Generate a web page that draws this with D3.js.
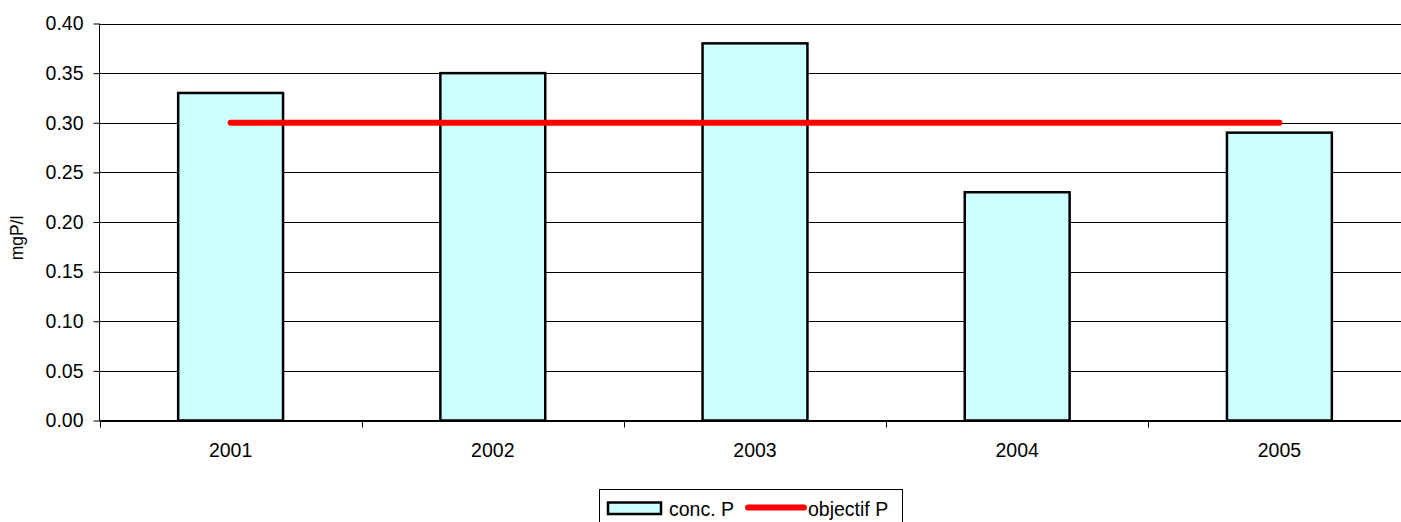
<!DOCTYPE html>
<html>
<head>
<meta charset="utf-8">
<script src="https://cdn.jsdelivr.net/npm/d3@7"></script>
<style>
  html, body { margin: 0; padding: 0; background: #fff; }
  svg { display: block; font-family: "Liberation Sans", Arial, sans-serif; }
</style>
</head>
<body>
<svg id="chart" width="1401" height="522"></svg>
<script>
// Annual phosphorus concentration vs. target
const years = ["2001", "2002", "2003", "2004", "2005"];
const concP = [0.33, 0.35, 0.38, 0.23, 0.29];
const objectifP = [0.30, 0.30, 0.30, 0.30, 0.30];
const yTicks = [0, 0.05, 0.10, 0.15, 0.20, 0.25, 0.30, 0.35, 0.40];

const FONT = 19.5;
const svg = d3.select("#chart");
const plotLeft = 99.5, plotRight = 1410.5, plotTop = 23.5, plotBottom = 420.5;

const x = d3.scaleBand().domain(years).range([plotLeft, plotRight]).paddingInner(0).paddingOuter(0);
const y = d3.scaleLinear().domain([0, 0.40]).range([plotBottom, plotTop]);
const barW = x.bandwidth() * 0.4;

// horizontal gridlines
svg.append("g").selectAll("line").data(yTicks).join("line")
  .attr("x1", plotLeft).attr("x2", plotRight)
  .attr("y1", d => Math.round(y(d)) + 0.5).attr("y2", d => Math.round(y(d)) + 0.5)
  .attr("stroke", "#000").attr("stroke-width", 1);

// y axis
const yAxis = d3.axisLeft(y).tickValues(yTicks).tickFormat(d3.format(".2f")).tickSize(6).tickPadding(10);
const gy = svg.append("g").attr("transform", `translate(${plotLeft},0)`).call(yAxis);
gy.attr("font-size", null).attr("font-family", null);
gy.selectAll("text").attr("font-size", FONT).attr("fill", "#000");
gy.selectAll("line, path").attr("stroke", "#000");
gy.select(".domain").attr("d", `M0,${plotTop}V${plotBottom}`);

// x axis: ticks at category boundaries
const gx = svg.append("g").attr("transform", `translate(0,${plotBottom})`);
gx.append("line").attr("x1", plotLeft).attr("x2", plotRight).attr("y1", 0).attr("y2", 0).attr("stroke", "#000");
const bounds = years.map(d => x(d)).concat([x(years[years.length - 1]) + x.bandwidth()]);
gx.selectAll("line.tick").data(bounds).join("line").attr("class", "tick")
  .attr("x1", d => Math.round(d) + 0.5).attr("x2", d => Math.round(d) + 0.5)
  .attr("y1", 0).attr("y2", 7).attr("stroke", "#000");
gx.selectAll("text").data(years).join("text")
  .attr("x", d => x(d) + x.bandwidth() / 2).attr("y", 36.5)
  .attr("text-anchor", "middle").attr("font-size", FONT).attr("fill", "#000")
  .text(d => d);

// bars
svg.append("g").selectAll("rect").data(years).join("rect")
  .attr("x", d => x(d) + (x.bandwidth() - barW) / 2)
  .attr("y", (d, i) => y(concP[i]))
  .attr("width", barW)
  .attr("height", (d, i) => y(0) - y(concP[i]))
  .attr("fill", "#ccffff").attr("stroke", "#000").attr("stroke-width", 2.5);

// target line
const line = d3.line().x((d, i) => x(years[i]) + x.bandwidth() / 2).y(d => y(d));
svg.append("path").datum(objectifP).attr("d", line)
  .attr("fill", "none").attr("stroke", "#ff0000").attr("stroke-width", 6).attr("stroke-linecap", "round");

// y axis title
svg.append("text").attr("transform", "translate(23,238) rotate(-90)")
  .attr("text-anchor", "middle").attr("font-size", 17.5).attr("fill", "#000").text("mgP/l");

// legend
const lg = svg.append("g");
lg.append("rect").attr("x", 599.5).attr("y", 489.5).attr("width", 303).attr("height", 40)
  .attr("fill", "#fff").attr("stroke", "#000").attr("stroke-width", 1);
lg.append("rect").attr("x", 608).attr("y", 502.5).attr("width", 53).attr("height", 11.5)
  .attr("fill", "#ccffff").attr("stroke", "#000").attr("stroke-width", 2.5);
lg.append("text").attr("x", 669).attr("y", 516).attr("font-size", FONT).attr("fill", "#000").text("conc. P");
lg.append("line").attr("x1", 748).attr("x2", 804).attr("y1", 507.5).attr("y2", 507.5)
  .attr("stroke", "#ff0000").attr("stroke-width", 6).attr("stroke-linecap", "round");
lg.append("text").attr("x", 808).attr("y", 516).attr("font-size", FONT).attr("fill", "#000").text("objectif P");
</script>
</body>
</html>
